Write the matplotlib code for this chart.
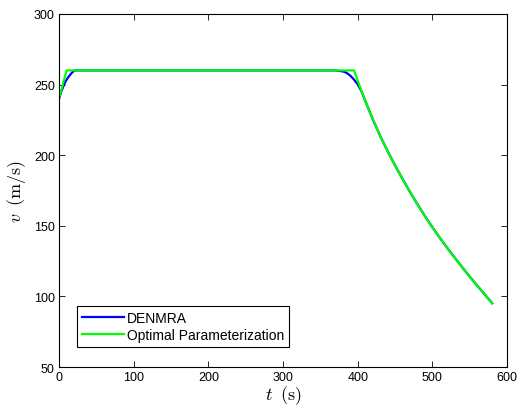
import numpy as np
import matplotlib.pyplot as plt

plt.rcParams['mathtext.fontset'] = 'cm'
plt.rcParams['font.family'] = ['Liberation Sans', 'DejaVu Sans']

# descent phase (shared by both trajectories)
t_desc = [410, 420, 430, 440, 450, 460, 470, 480, 490, 500, 510, 520, 530, 545, 560, 580]
v_desc = [238.5, 225.5, 213.6, 202.8, 192.7, 183.1, 173.9, 165.2, 156.8, 148.9, 141.4,
          134.2, 127.3, 117.2, 107.6, 95.2]

# DENMRA trajectory
t_den = [0, 3, 6, 9, 12, 15, 18, 21, 100, 200, 300, 370, 380, 385, 390, 395, 400, 405] + t_desc
v_den = [240, 245, 249, 252.5, 255, 257, 258.8, 260, 260, 260, 260, 260, 259.3, 258.3,
         256.3, 253.5, 250, 245.2] + v_desc

# Optimal parameterization trajectory
t_opt = [0, 10, 100, 200, 300, 395, 400, 405] + t_desc
v_opt = [240, 260, 260, 260, 260, 260, 252.8, 245.5] + v_desc

fig = plt.figure(figsize=(5.18, 4.14), dpi=100)
ax = fig.add_axes([0.114, 0.111, 0.865, 0.853])

ax.plot(t_den, v_den, color=(0, 0, 1), lw=1.6, label='DENMRA')
ax.plot(t_opt, v_opt, color=(0, 1, 0), lw=1.6, label='Optimal Parameterization')

ax.set_xlim(0, 600)
ax.set_ylim(50, 300)
ax.set_xticks(range(0, 601, 100))
ax.set_yticks(range(50, 301, 50))
ax.tick_params(direction='in', top=True, right=True, labelsize=9, length=4, width=0.6, pad=3)
for s in ax.spines.values():
    s.set_linewidth(0.8)

ax.set_xlabel(r'$t\;\;\mathrm{(s)}$', fontsize=13, labelpad=0)
ax.set_ylabel(r'$v\;\;\mathrm{(m/s)}$', fontsize=13, labelpad=4)

leg = ax.legend(loc='lower left', bbox_to_anchor=(0.04, 0.057), fontsize=10,
                fancybox=False, edgecolor='black', framealpha=1,
                handlelength=3.0, handletextpad=0.25, borderpad=0.35,
                labelspacing=0.2, borderaxespad=0)
leg.get_frame().set_linewidth(0.8)

fig.savefig('out.png', dpi=100)
